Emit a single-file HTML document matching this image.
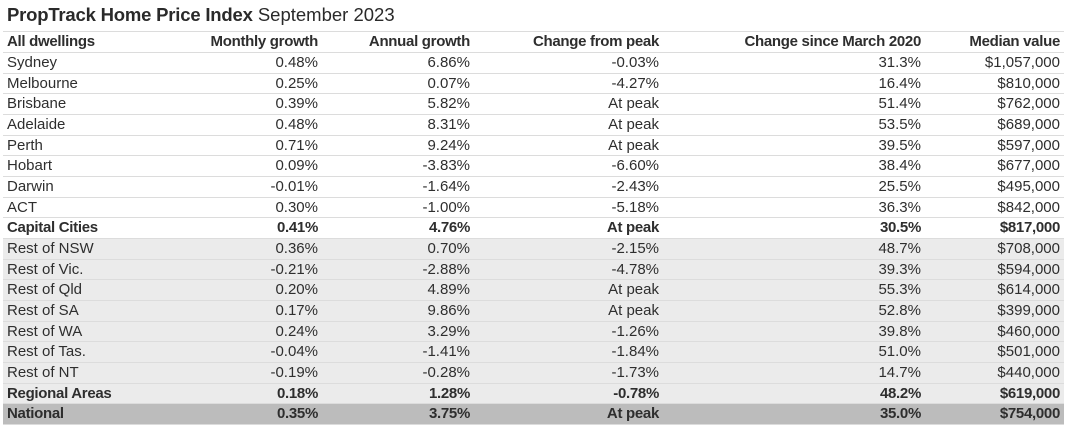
<!DOCTYPE html>
<html><head><meta charset="utf-8"><style>
html,body{margin:0;padding:0;background:#fff;}
body{width:1069px;height:428px;position:relative;overflow:hidden;font-family:"Liberation Sans",sans-serif;color:#2e2e2e;}
.t{position:absolute;left:7px;top:3px;font-size:18.5px;line-height:24px;white-space:nowrap;color:#2a2a2a;}
.t b{font-weight:bold;letter-spacing:-0.2px;}
.r{position:absolute;left:3px;width:1061px;height:20.67px;border-top:1.5px solid #dcdcdc;box-sizing:border-box;}
.r span{position:absolute;top:0;line-height:19px;font-size:15px;white-space:nowrap;}
.c0{left:4px;}
.c1{right:746px;}
.c2{right:594px;}
.c3{right:405px;}
.c4{right:143px;}
.c5{right:4px;}
.b span{font-weight:bold;letter-spacing:-0.3px;}
.g{background:#ebebeb;}
.n{background:#bcbcbc;}
.bot{position:absolute;left:3px;width:1061px;top:424px;border-top:1.5px solid #dcdcdc;}
</style></head><body>
<div class="t"><b>PropTrack Home Price Index</b> September 2023</div>

<div class="r b" style="top:31px;height:21px"><span class="c0">All dwellings</span><span class="c1">Monthly growth</span><span class="c2">Annual growth</span><span class="c3">Change from peak</span><span class="c4">Change since March 2020</span><span class="c5">Median value</span></div>

<div class="r" style="top:52px"><span class="c0">Sydney</span><span class="c1">0.48%</span><span class="c2">6.86%</span><span class="c3">-0.03%</span><span class="c4">31.3%</span><span class="c5">$1,057,000</span></div>
<div class="r" style="top:72.67px"><span class="c0">Melbourne</span><span class="c1">0.25%</span><span class="c2">0.07%</span><span class="c3">-4.27%</span><span class="c4">16.4%</span><span class="c5">$810,000</span></div>
<div class="r" style="top:93.33px"><span class="c0">Brisbane</span><span class="c1">0.39%</span><span class="c2">5.82%</span><span class="c3">At peak</span><span class="c4">51.4%</span><span class="c5">$762,000</span></div>
<div class="r" style="top:114px"><span class="c0">Adelaide</span><span class="c1">0.48%</span><span class="c2">8.31%</span><span class="c3">At peak</span><span class="c4">53.5%</span><span class="c5">$689,000</span></div>
<div class="r" style="top:134.67px"><span class="c0">Perth</span><span class="c1">0.71%</span><span class="c2">9.24%</span><span class="c3">At peak</span><span class="c4">39.5%</span><span class="c5">$597,000</span></div>
<div class="r" style="top:155.33px"><span class="c0">Hobart</span><span class="c1">0.09%</span><span class="c2">-3.83%</span><span class="c3">-6.60%</span><span class="c4">38.4%</span><span class="c5">$677,000</span></div>
<div class="r" style="top:176px"><span class="c0">Darwin</span><span class="c1">-0.01%</span><span class="c2">-1.64%</span><span class="c3">-2.43%</span><span class="c4">25.5%</span><span class="c5">$495,000</span></div>
<div class="r" style="top:196.67px"><span class="c0">ACT</span><span class="c1">0.30%</span><span class="c2">-1.00%</span><span class="c3">-5.18%</span><span class="c4">36.3%</span><span class="c5">$842,000</span></div>
<div class="r b" style="top:217.33px"><span class="c0">Capital Cities</span><span class="c1">0.41%</span><span class="c2">4.76%</span><span class="c3">At peak</span><span class="c4">30.5%</span><span class="c5">$817,000</span></div>
<div class="r g" style="top:238px"><span class="c0">Rest of NSW</span><span class="c1">0.36%</span><span class="c2">0.70%</span><span class="c3">-2.15%</span><span class="c4">48.7%</span><span class="c5">$708,000</span></div>
<div class="r g" style="top:258.67px"><span class="c0">Rest of Vic.</span><span class="c1">-0.21%</span><span class="c2">-2.88%</span><span class="c3">-4.78%</span><span class="c4">39.3%</span><span class="c5">$594,000</span></div>
<div class="r g" style="top:279.33px"><span class="c0">Rest of Qld</span><span class="c1">0.20%</span><span class="c2">4.89%</span><span class="c3">At peak</span><span class="c4">55.3%</span><span class="c5">$614,000</span></div>
<div class="r g" style="top:300px"><span class="c0">Rest of SA</span><span class="c1">0.17%</span><span class="c2">9.86%</span><span class="c3">At peak</span><span class="c4">52.8%</span><span class="c5">$399,000</span></div>
<div class="r g" style="top:320.67px"><span class="c0">Rest of WA</span><span class="c1">0.24%</span><span class="c2">3.29%</span><span class="c3">-1.26%</span><span class="c4">39.8%</span><span class="c5">$460,000</span></div>
<div class="r g" style="top:341.33px"><span class="c0">Rest of Tas.</span><span class="c1">-0.04%</span><span class="c2">-1.41%</span><span class="c3">-1.84%</span><span class="c4">51.0%</span><span class="c5">$501,000</span></div>
<div class="r g" style="top:362px"><span class="c0">Rest of NT</span><span class="c1">-0.19%</span><span class="c2">-0.28%</span><span class="c3">-1.73%</span><span class="c4">14.7%</span><span class="c5">$440,000</span></div>
<div class="r g b" style="top:382.67px"><span class="c0">Regional Areas</span><span class="c1">0.18%</span><span class="c2">1.28%</span><span class="c3">-0.78%</span><span class="c4">48.2%</span><span class="c5">$619,000</span></div>
<div class="r n b" style="top:403.33px"><span class="c0">National</span><span class="c1">0.35%</span><span class="c2">3.75%</span><span class="c3">At peak</span><span class="c4">35.0%</span><span class="c5">$754,000</span></div>
<div class="bot"></div>
</body></html>
